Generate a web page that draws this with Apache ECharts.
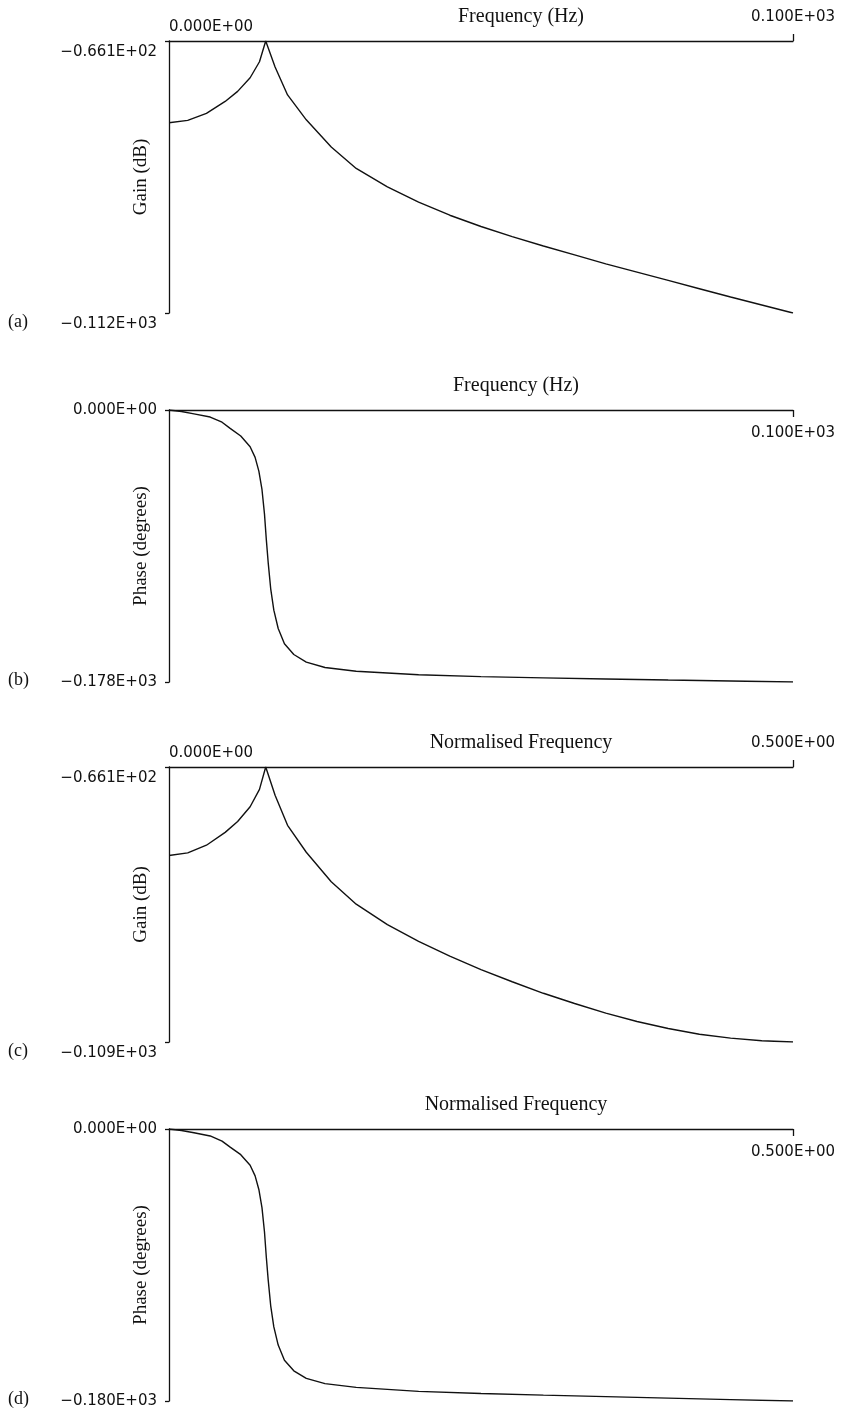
<!DOCTYPE html>
<html><head><meta charset="utf-8">
<script src="https://cdn.jsdelivr.net/npm/echarts@6/dist/echarts.min.js"></script>
<style>html,body{margin:0;padding:0;background:#fff}#c{width:847px;height:1412px}</style>
</head><body><div id="c"></div>
<script>
// (a) Gain vs frequency (Hz)
const freqA = [0,3,6,9,11,13,14.5,15.5,17,19,22,26,30,35,40,45,50,55,60,65,70,75,80,85,90,95,100];
const gainA = [-79.9,-79.5,-78.3,-76.3,-74.6,-72.3,-69.6,-66.1,-70.5,-75.2,-79.4,-84.0,-87.6,-90.7,-93.3,-95.5,-97.4,-99.1,-100.7,-102.2,-103.7,-105.1,-106.5,-107.9,-109.3,-110.65,-112.0];
// (b) Phase vs frequency (Hz)
const freqB = [0,2,4,6.6,8.5,9.8,11.5,13,13.8,14.4,14.9,15.3,15.6,15.9,16.3,16.8,17.5,18.5,20,22,25,30,40,50,60,70,80,90,100];
const phaseB = [0,-1,-2.5,-4.6,-8,-12,-17,-24,-31,-40,-52,-68,-85,-100,-117,-131,-143,-153,-160,-165,-168.5,-171,-173.3,-174.5,-175.3,-176,-176.7,-177.3,-178];
// (c) Gain vs normalised frequency
const freqC = [0,0.015,0.03,0.045,0.055,0.065,0.0725,0.0775,0.085,0.095,0.11,0.13,0.15,0.175,0.2,0.225,0.25,0.275,0.3,0.325,0.35,0.375,0.4,0.425,0.45,0.475,0.5];
const gainC = [-79.9,-79.5,-78.3,-76.3,-74.6,-72.3,-69.6,-66.1,-70.5,-75.2,-79.4,-84.0,-87.5,-90.7,-93.3,-95.6,-97.7,-99.6,-101.4,-103.0,-104.5,-105.8,-106.9,-107.8,-108.4,-108.8,-109.0];
// (d) Phase vs normalised frequency
const freqD = [0,0.01,0.02,0.033,0.0425,0.049,0.0575,0.065,0.069,0.072,0.0745,0.0765,0.078,0.0795,0.0815,0.084,0.0875,0.0925,0.1,0.11,0.125,0.15,0.2,0.25,0.3,0.35,0.4,0.45,0.5];
const phaseD = [0,-1,-2.5,-4.6,-8,-12,-17,-24,-31,-40,-52,-68,-85,-100,-117,-131,-143,-153,-160,-165,-168.5,-171,-173.6,-175,-176.1,-177.1,-178.1,-179.1,-180];

// axis ranges / tick values
const xRanges = [[0,100],[0,100],[0,0.5],[0,0.5]];
const yRanges = [[-112,-66.1],[-178,0],[-109,-66.1],[-180,0]];
const xNames = ['Frequency (Hz)','Frequency (Hz)','Normalised Frequency','Normalised Frequency'];
const yNames = ['Gain (dB)','Phase (degrees)','Gain (dB)','Phase (degrees)'];
const panelLabels = ['(a)','(b)','(c)','(d)'];

function efmt(v){
  if (v === 0) return '0.000E+00';
  const s = v < 0 ? '\u2212' : '';
  const a = Math.abs(v);
  let e = Math.floor(Math.log10(a) + 1e-12) + 1;
  let ms = (a / Math.pow(10, e)).toFixed(3);
  if (ms === '1.000') { e += 1; ms = '0.100'; }
  return s + ms + 'E' + (e < 0 ? '-' : '+') + String(Math.abs(e)).padStart(2, '0');
}

const tops = [41, 410, 767, 1129];
const heights = [272, 272, 275, 272];
const series = [[freqA,gainA],[freqB,phaseB],[freqC,gainC],[freqD,phaseD]];
const labFont = 'DejaVu Sans';
const serif = 'Liberation Serif';
const ink = '#111';

const grid = [], xAxis = [], yAxis = [], ser = [], graphic = [];
for (let i = 0; i < 4; i++) {
  const isGain = (i % 2 === 0);
  grid.push({left:169, top:tops[i], width:624, height:heights[i], outerBoundsMode:'none', containLabel:false});
  const [x0,x1] = xRanges[i];
  const [y0,y1] = yRanges[i];
  xAxis.push({
    type:'value', gridIndex:i, position:'top', min:x0, max:x1,
    splitLine:{show:false},
    axisLine:{show:true, onZero:false, lineStyle:{color:ink, width:1.3}},
    axisTick:{show:true, customValues:[x1], length:7, inside:!isGain, lineStyle:{color:ink, width:1.3}},
    axisLabel:{
      show:true,
      customValues: isGain ? [x0,x1] : [x1],
      alignMinLabel: isGain ? 'left' : 'center', alignMaxLabel: 'center',
      margin: isGain ? 6 : -31,
      fontFamily:labFont, fontSize:15, color:ink,
      formatter: function(v){ return v === x1 ? '{r|'+efmt(v)+'}' : '{l|'+efmt(v)+'}'; },
      rich:{
        r:{fontFamily:labFont, fontSize:15, color:ink, padding: isGain ? [0,0,10,0] : [0,0,0,0]},
        l:{fontFamily:labFont, fontSize:15, color:ink}
      }
    },
    name:xNames[i], nameLocation:'middle', nameGap:14, nameMoveOverlap:false,
    nameTextStyle:{fontFamily:serif, fontSize:20, color:ink, padding:[0,0,0,isGain?80:70]}
  });
  yAxis.push({
    type:'value', gridIndex:i, min:y0, max:y1,
    splitLine:{show:false},
    axisLine:{show:true, onZero:false, lineStyle:{color:ink, width:1.3}},
    axisTick:{show:true, customValues:[y0,y1], length:4, lineStyle:{color:ink, width:1.3}},
    axisLabel:{
      show:true, customValues:[y0,y1], margin:12,
      fontFamily:labFont, fontSize:15, color:ink,
      verticalAlign: isGain ? 'top' : 'middle',
      padding: isGain ? [4,0,0,0] : 0,
      formatter: function(v){ return efmt(v); }
    },
    name:yNames[i], nameLocation:'middle', nameRotate:90, nameGap:18, nameMoveOverlap:false,
    nameTextStyle:{fontFamily:serif, fontSize:19, color:ink}
  });
  const [xs, ys] = series[i];
  ser.push({
    type:'line', xAxisIndex:i, yAxisIndex:i, symbol:'none', smooth:false,
    lineStyle:{color:ink, width:1.4}, silent:true, animation:false,
    data: xs.map((x,k)=>[x, ys[k]])
  });
  graphic.push({
    type:'text', left:8, top: tops[i] + heights[i] + (isGain ? 0 : -11),
    style:{text:panelLabels[i], font:'18px "Liberation Serif"', fill:ink}
  });
}

const chart = echarts.init(document.getElementById('c'), null, {renderer:'canvas'});
chart.setOption({
  animation:false, backgroundColor:'#fff',
  grid, xAxis, yAxis, series: ser, graphic
});
</script></body></html>
